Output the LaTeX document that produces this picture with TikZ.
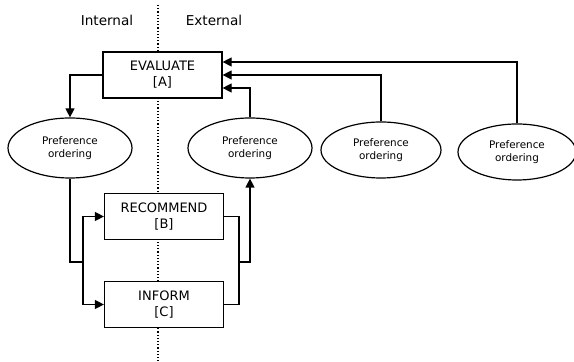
\documentclass[tikz,border=0pt]{standalone}
\usepackage{fontspec}
\setmainfont{DejaVu Sans}
\usetikzlibrary{shapes.geometric,arrows.meta}
\begin{document}
\begin{tikzpicture}[x=0.5pt,y=-0.5pt,line width=0.6pt,
  actbox/.style={draw, fill=white, rectangle, align=center, minimum width=59.5pt, minimum height=23pt, inner sep=0pt, font=\fontsize{6.5}{8}\selectfont},
  prefnode/.style={draw, fill=white, ellipse, align=center, minimum width=62pt, minimum height=30pt, inner sep=0pt, font=\fontsize{5.2}{6.5}\selectfont},
  sidelabel/.style={font=\fontsize{6.8}{8}\selectfont},
  flow/.style={-{Triangle[length=4.5pt,width=4.5pt]}}]
\useasboundingbox (0,0) rectangle (574,362);
\draw[densely dotted] (158,5) -- (158,362);
\node[sidelabel] (internal) at (107,20) {Internal};
\node[sidelabel] (external) at (214,20) {External};
\node[actbox] (evaluate) at (162.5,75) {EVALUATE\\ {[A]}};
\node[actbox] (recommend) at (164,216.5) {RECOMMEND\\ {[B]}};
\node[actbox] (inform) at (164,304.5) {INFORM\\ {[C]}};
\node[prefnode] (pref1) at (70,148) {Preference\\ ordering};
\node[prefnode] (pref2) at (250,148) {Preference\\ ordering};
\node[prefnode, minimum width=60pt, minimum height=28pt] (pref3) at (381,150) {Preference\\ ordering};
\node[prefnode, minimum width=59pt, minimum height=28pt] (pref4) at (517,152) {Preference\\ ordering};
\coordinate (joinl) at (83,262);
\coordinate (joinr) at (239,262);
\draw[flow] (evaluate.west) -| (pref1.north);
\draw (pref1.south) |- (joinl);
\draw[flow] (joinl) |- (recommend.west);
\draw[flow] (joinl) |- (inform.west);
\draw (recommend.east) -| (joinr) |- (inform.east);
\draw[flow] (joinr) -| (pref2.south);
\draw[flow] (pref2.north) |- ([yshift=-6.5pt]evaluate.east);
\draw[flow] (pref3.north) |- (evaluate.east);
\draw[flow] (pref4.north) |- ([yshift=6.5pt]evaluate.east);
\end{tikzpicture}
\end{document}
